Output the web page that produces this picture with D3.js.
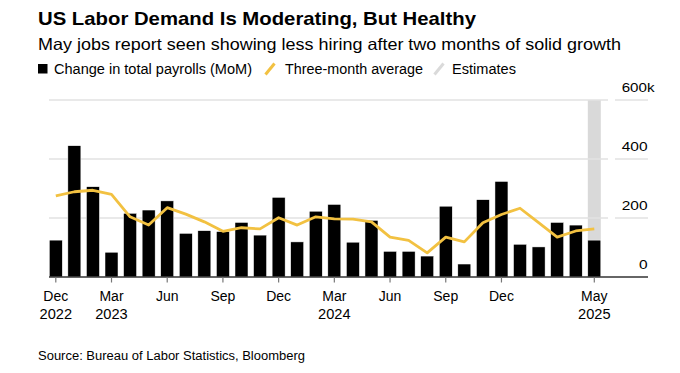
<!DOCTYPE html>
<html><head><meta charset="utf-8">
<script src="https://cdn.jsdelivr.net/npm/d3@7"></script>
<style>
body{margin:0;background:#fff}
svg{display:block}
text{font-family:"Liberation Sans",Arial,Helvetica,sans-serif;fill:#000}
</style>
</head><body>
<svg id="chart" width="680" height="373"></svg>
<script>
// ---- data (thousands of jobs) ----
const months = ["2022-12","2023-01","2023-02","2023-03","2023-04","2023-05","2023-06","2023-07","2023-08","2023-09","2023-10","2023-11","2023-12",
  "2024-01","2024-02","2024-03","2024-04","2024-05","2024-06","2024-07","2024-08","2024-09","2024-10","2024-11","2024-12",
  "2025-01","2025-02","2025-03","2025-04","2025-05"];
const payrolls = [125,445,306,84,216,227,258,148,157,154,185,142,270,
  119,223,246,118,192,87,87,71,240,44,262,324,
  111,102,185,176,125];
const threeMonthAvg = [275,289,294,280,204,176,235,213,187,155,167,163,201,
  176,204,197,196,187,135,124,82,135,119,184,212,
  233,184,135,156,163];
const estimateMonths = ["2025-05"];
const xTickMonths = ["2022-12","2023-03","2023-06","2023-09","2023-12","2024-03","2024-06","2024-09","2024-12","2025-05"];
const xTickMonthLabels = ["Dec","Mar","Jun","Sep","Dec","Mar","Jun","Sep","Dec","May"];
const xTickYearLabels = ["2022","2023","","","","2024","","","","2025"];
const yTicks = [0,200,400,600];
const yTickLabels = ["0","200","400","600k"];
const legendLabels = ["Change in total payrolls (MoM)","Three-month average","Estimates"];

// ---- drawing ----
const svg = d3.select("#chart");
const yellow = "#f2c141";
const x = d3.scaleBand().domain(months).range([49.3, 600.8]).paddingInner(0.3).paddingOuter(0);
const y = d3.scaleLinear().domain([0, 600]).range([277, 100]);
const cx = m => x(m) + x.bandwidth() / 2;

// stretch text horizontally to match the wider reference typeface
function widen(sel, factor) {
  const w = sel.node().getComputedTextLength();
  sel.attr("textLength", w * factor).attr("lengthAdjust", "spacingAndGlyphs");
  return sel;
}
function fitTo(sel, width) {
  sel.attr("textLength", width).attr("lengthAdjust", "spacingAndGlyphs");
  return sel;
}

// title, subtitle
fitTo(svg.append("text").attr("x", 38).attr("y", 25).attr("font-size", 19).attr("font-weight", "bold")
  .text("US Labor Demand Is Moderating, But Healthy"), 438);
fitTo(svg.append("text").attr("x", 38).attr("y", 49.5).attr("font-size", 16.5).attr("fill", "#111")
  .text("May jobs report seen showing less hiring after two months of solid growth"), 583);

// legend
const lg = svg.append("g");
lg.append("rect").attr("x", 38).attr("y", 64).attr("width", 9.5).attr("height", 9.5).attr("fill", "#000");
fitTo(lg.append("text").attr("x", 54).attr("y", 73.5).attr("font-size", 14).text(legendLabels[0]), 198);
lg.append("line").attr("x1", 265.5).attr("y1", 74.5).attr("x2", 274.5).attr("y2", 63.5)
  .attr("stroke", yellow).attr("stroke-width", 3);
fitTo(lg.append("text").attr("x", 285).attr("y", 73.5).attr("font-size", 14).text(legendLabels[1]), 138);
lg.append("line").attr("x1", 434.5).attr("y1", 74.5).attr("x2", 443.5).attr("y2", 63.5)
  .attr("stroke", "#dadada").attr("stroke-width", 3);
fitTo(lg.append("text").attr("x", 452).attr("y", 73.5).attr("font-size", 14).text(legendLabels[2]), 64);

// estimate band
svg.append("g").selectAll("rect").data(estimateMonths).join("rect")
  .attr("x", d => x(d)).attr("width", x.bandwidth())
  .attr("y", y(600)).attr("height", y(0) - y(600)).attr("fill", "#d9d9d9");

// gridlines
const grid = svg.append("g");
yTicks.filter(t => t > 0).forEach(t => {
  grid.append("line").attr("x1", 49).attr("x2", 608).attr("y1", y(t)).attr("y2", y(t))
    .attr("stroke", "#e2e2e2").attr("stroke-width", 1.3);
  grid.append("line").attr("x1", 615).attr("x2", 648).attr("y1", y(t)).attr("y2", y(t))
    .attr("stroke", "#e2e2e2").attr("stroke-width", 1.3);
});

// y labels (right)
const yl = svg.append("g");
const digitW = 8.6;
yTicks.forEach((t, i) => {
  const lab = yTickLabels[i];
  const num = lab.replace(/k$/, "");
  const numW = num.length * digitW;
  const tx = yl.append("text").attr("x", 647.5 - numW).attr("y", y(t) - 8.5).attr("font-size", 13.5).text(lab);
  fitTo(tx, lab.endsWith("k") ? numW + 7 : numW);
});

// bars
svg.append("g").selectAll("rect").data(months).join("rect")
  .attr("x", d => x(d)).attr("width", x.bandwidth())
  .attr("y", (d, i) => y(payrolls[i])).attr("height", (d, i) => y(0) - y(payrolls[i]))
  .attr("fill", "#000").attr("stroke", "#fff").attr("stroke-width", 0.5);

// baseline
svg.append("line").attr("x1", 49).attr("x2", 648).attr("y1", y(0)).attr("y2", y(0))
  .attr("stroke", "#333").attr("stroke-width", 1.3);

// x ticks
const xt = svg.append("g");
xTickMonths.forEach((m, i) => {
  xt.append("line").attr("x1", cx(m)).attr("x2", cx(m)).attr("y1", y(0)).attr("y2", y(0) + 5.5)
    .attr("stroke", "#777").attr("stroke-width", 1.2);
  xt.append("text").attr("x", cx(m)).attr("y", 300.5).attr("text-anchor", "middle").attr("font-size", 14)
    .text(xTickMonthLabels[i]);
  if (xTickYearLabels[i]) {
    fitTo(xt.append("text").attr("x", cx(m)).attr("y", 318.5).attr("text-anchor", "middle").attr("font-size", 14)
      .text(xTickYearLabels[i]), 32.5);
  }
});

// three-month average line
svg.append("path").datum(months)
  .attr("d", d3.line().x(d => cx(d)).y((d, i) => y(threeMonthAvg[i])))
  .attr("fill", "none").attr("stroke", yellow).attr("stroke-width", 2.8)
  .attr("stroke-linejoin", "round").attr("stroke-linecap", "butt");

// source
fitTo(svg.append("text").attr("x", 38).attr("y", 360).attr("font-size", 12.5).attr("fill", "#111")
  .text("Source: Bureau of Labor Statistics, Bloomberg"), 267);
</script>
</body></html>
